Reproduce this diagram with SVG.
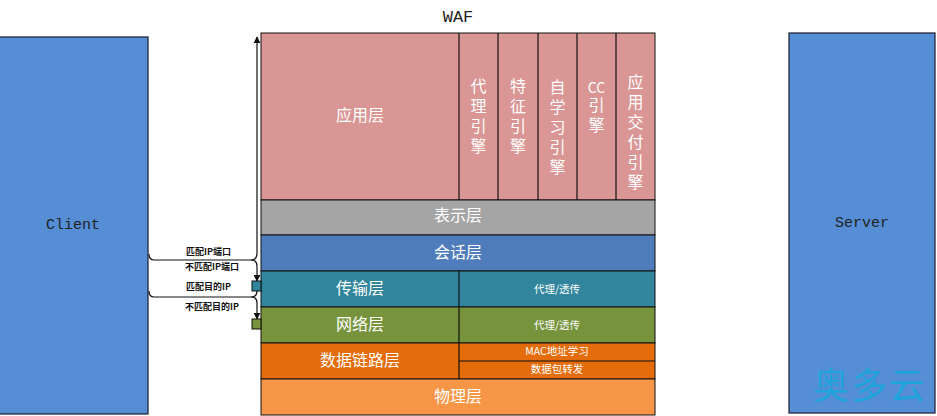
<svg xmlns="http://www.w3.org/2000/svg" width="937" height="416" viewBox="0 0 937 416">
<defs>
<style>
.box{stroke:#1a1a2e;stroke-width:1.2}
.layer{stroke:#111;stroke-width:1}
.div{stroke:#111;stroke-width:1.2}
.cn{font-family:"Noto Sans CJK SC","Liberation Sans",sans-serif;fill:#fff}
.lbl{font-size:16px;text-anchor:middle}
.eng{font-size:16px;writing-mode:vertical-rl;text-orientation:upright;letter-spacing:4px}
.sub{font-size:10.5px;text-anchor:middle}
.mono{font-family:"Liberation Mono","DejaVu Sans Mono",monospace;fill:#222;text-anchor:middle}
.small{font-family:"Noto Sans CJK SC","Liberation Sans",sans-serif;font-size:9px;font-weight:bold;fill:#111}
.conn{fill:none;stroke:#111;stroke-width:1.2}
</style>
<marker id="arr" viewBox="0 0 10 10" refX="9" refY="5" markerWidth="7" markerHeight="7" orient="auto-start-reverse" markerUnits="userSpaceOnUse">
<path d="M0,0 L10,5 L0,10 z" fill="#111"/>
</marker>
</defs>
<rect width="937" height="416" fill="#fff"/>

<g id="client">
<rect class="box" x="-1" y="37" width="149" height="377" fill="#558ed5"/>
<text class="mono" x="73" y="229" font-size="15">Client</text>
</g>

<g id="server">
<rect class="box" x="789" y="33" width="146" height="380" fill="#558ed5"/>
<text class="mono" x="862" y="227" font-size="15">Server</text>
<text x="870" y="399" font-family="Noto Sans CJK SC,sans-serif" font-size="36" fill="#1fa3dc" text-anchor="middle" letter-spacing="2">奥多云</text>
</g>

<g id="waf">
<text class="mono" x="458" y="22" font-size="17">WAF</text>
<g id="app-layer">
<rect class="layer" x="261" y="33" width="394" height="167" fill="#d99694"/>
<line class="div" x1="459" y1="33" x2="459" y2="200"/>
<line class="div" x1="498" y1="33" x2="498" y2="200"/>
<line class="div" x1="538" y1="33" x2="538" y2="200" stroke-width="2"/>
<line class="div" x1="577" y1="33" x2="577" y2="200"/>
<line class="div" x1="616" y1="33" x2="616" y2="200"/>
<text class="cn lbl" x="360" y="121">应用层</text>
<text class="cn eng" x="478.5" y="78">代理引擎</text>
<text class="cn eng" x="518" y="78">特征引擎</text>
<text class="cn eng" x="557.5" y="79" letter-spacing="3">自学习引擎</text>
<text class="cn" x="596.5" y="93" font-size="14" text-anchor="middle">CC</text>
<text class="cn eng" x="596.5" y="97">引擎</text>
<text class="cn eng" x="635.5" y="74">应用交付引擎</text>
</g>
<g id="presentation-layer">
<rect class="layer" x="261" y="200" width="394" height="35" fill="#a5a5a5"/>
<text class="cn lbl" x="458" y="221">表示层</text>
</g>
<g id="session-layer">
<rect class="layer" x="261" y="235" width="394" height="36" fill="#4f7dbb"/>
<text class="cn lbl" x="458" y="258">会话层</text>
</g>
<g id="transport-layer">
<rect class="layer" x="261" y="271" width="394" height="36" fill="#31859c"/>
<line class="div" x1="459" y1="271" x2="459" y2="307"/>
<text class="cn lbl" x="360" y="294">传输层</text>
<text class="cn sub" x="557" y="293">代理/透传</text>
</g>
<g id="network-layer">
<rect class="layer" x="261" y="307" width="394" height="36" fill="#77933c"/>
<line class="div" x1="459" y1="307" x2="459" y2="343"/>
<text class="cn lbl" x="360" y="330">网络层</text>
<text class="cn sub" x="557" y="329">代理/透传</text>
</g>
<g id="datalink-layer">
<rect class="layer" x="261" y="343" width="394" height="36" fill="#e46c0a"/>
<line class="div" x1="459" y1="343" x2="459" y2="379"/>
<line class="div" x1="459" y1="361" x2="655" y2="361"/>
<text class="cn lbl" x="360" y="366">数据链路层</text>
<text class="cn sub" x="557" y="355" font-size="10">MAC地址学习</text>
<text class="cn sub" x="557" y="373" font-size="10">数据包转发</text>
</g>
<g id="physical-layer">
<rect class="layer" x="261" y="379" width="394" height="36" fill="#f79646"/>
<text class="cn lbl" x="458" y="402">物理层</text>
</g>
</g>

<g id="connectors">
<path class="conn" d="M257,37 V253 Q257,260 251,260 H154 Q149,260 149,254" marker-start="url(#arr)"/>
<path class="conn" d="M251,260 Q257,260 257,266 V281" marker-end="url(#arr)"/>
<rect x="252" y="281" width="9" height="10" fill="#31859c" stroke="#111" stroke-width="1"/>
<path class="conn" d="M257,291 Q257,297 251,297 H154 Q149,297 149,291"/>
<path class="conn" d="M251,297 Q257,297 257,303 V319" marker-end="url(#arr)"/>
<rect x="252" y="319" width="9" height="10" fill="#77933c" stroke="#111" stroke-width="1"/>
<text class="small" x="186" y="255">匹配IP端口</text>
<text class="small" x="185" y="270">不匹配IP端口</text>
<text class="small" x="186" y="290">匹配目的IP</text>
<text class="small" x="185" y="310">不匹配目的IP</text>
</g>
</svg>
